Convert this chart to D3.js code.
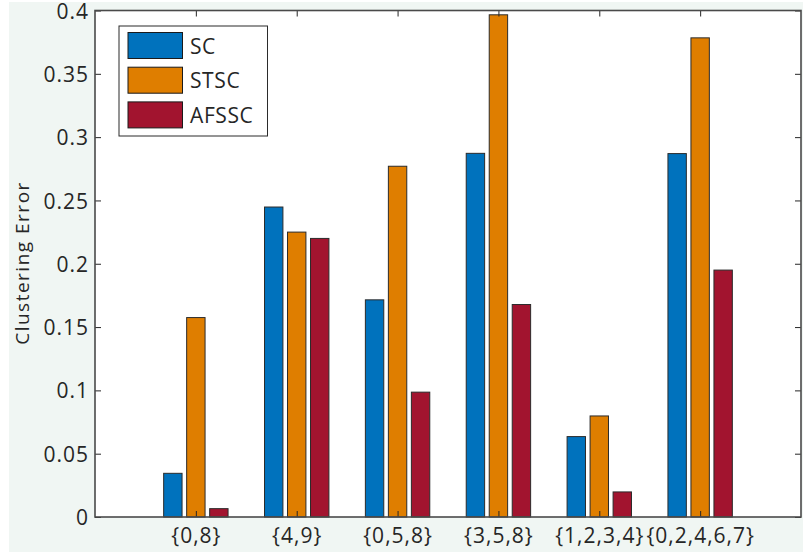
<!DOCTYPE html>
<html>
<head>
<meta charset="utf-8">
<script src="https://cdn.jsdelivr.net/npm/d3@7"></script>
<style>
  body { margin: 0; background: #fff; }
  text { font-family: "Open Sans", sans-serif; fill: #262626; }
</style>
</head>
<body>
<div id="chart"></div>
<script>
// data
const categories = ['{0,8}', '{4,9}', '{0,5,8}', '{3,5,8}', '{1,2,3,4}', '{0,2,4,6,7}'];
const seriesNames = ['SC', 'STSC', 'AFSSC'];
const scValues    = [0.0345, 0.2448, 0.1715, 0.2872, 0.0635, 0.2870];
const stscValues  = [0.1575, 0.2250, 0.2770, 0.3966, 0.0798, 0.3784];
const afsscValues = [0.0066, 0.2200, 0.0986, 0.1678, 0.0198, 0.1950];
const yTicks = [0, 0.05, 0.1, 0.15, 0.2, 0.25, 0.3, 0.35, 0.4];
const colors = ['#0072BD', '#DF7E00', '#A2142F'];

const W = 803, H = 552;
const axLeft = 95, axRight = 801, axTop = 10.5, axBottom = 517;

const svg = d3.select('#chart').append('svg')
  .attr('width', W)
  .attr('height', H);

// figure background
svg.append('rect')
  .attr('x', 9).attr('y', 2)
  .attr('width', W - 9).attr('height', H - 2)
  .attr('fill', '#f0f6f3');

const x = d3.scaleLinear().domain([0, categories.length + 1]).range([axLeft, axRight]);
const y = d3.scaleLinear().domain([0, 0.4]).range([axBottom, axTop]);
const inner = d3.scaleBand().domain(seriesNames).range([-34.5, 34.5])
  .paddingInner(0.2).paddingOuter(0.1);

// axes area
svg.append('rect')
  .attr('x', axLeft).attr('y', axTop)
  .attr('width', axRight - axLeft).attr('height', axBottom - axTop)
  .attr('fill', '#fff');

const series = [scValues, stscValues, afsscValues];
const g = svg.append('g');
series.forEach((vals, si) => {
  g.selectAll(null)
    .data(vals)
    .join('rect')
    .attr('x', (d, i) => x(i + 1) + inner(seriesNames[si]))
    .attr('y', d => y(d))
    .attr('width', inner.bandwidth())
    .attr('height', d => y(0) - y(d))
    .attr('fill', colors[si])
    .attr('stroke', '#2b2b2b')
    .attr('stroke-width', 1);
});

const axisColor = '#4a4a4a';

// left axis
const yAxis = svg.append('g')
  .attr('transform', `translate(${axLeft},0)`)
  .call(d3.axisLeft(y).tickValues(yTicks).tickSize(-6).tickPadding(6)
    .tickFormat(d => d === 0 ? '0' : String(+d.toFixed(2))));
yAxis.select('.domain').remove();
yAxis.selectAll('.tick line').attr('stroke', '#262626').attr('stroke-width', 1);
yAxis.selectAll('.tick text').attr('font-size', 21).attr('fill', '#262626')
  .attr('letter-spacing', 1).attr('dy', '0.36em')
  .attr('font-family', '"Open Sans", sans-serif');

// right axis ticks
const yAxisR = svg.append('g')
  .attr('transform', `translate(${axRight},0)`)
  .call(d3.axisRight(y).tickValues(yTicks).tickSize(-6).tickFormat(''));
yAxisR.select('.domain').remove();
yAxisR.selectAll('.tick line').attr('stroke', '#262626');

// bottom axis
const xAxis = svg.append('g')
  .attr('transform', `translate(0,${axBottom})`)
  .call(d3.axisBottom(x).tickValues(d3.range(1, categories.length + 1))
    .tickSize(-6).tickPadding(11).tickFormat(d => categories[d - 1]));
xAxis.select('.domain').remove();
xAxis.selectAll('.tick line').attr('stroke', '#262626');
xAxis.selectAll('.tick text').attr('font-size', 21).attr('fill', '#262626')
  .attr('letter-spacing', 1)
  .attr('font-family', '"Open Sans", sans-serif');

// top axis ticks
const xAxisT = svg.append('g')
  .attr('transform', `translate(0,${axTop})`)
  .call(d3.axisTop(x).tickValues(d3.range(1, categories.length + 1))
    .tickSize(-6).tickFormat(''));
xAxisT.select('.domain').remove();
xAxisT.selectAll('.tick line').attr('stroke', '#262626');

// box
svg.append('rect')
  .attr('x', axLeft).attr('y', axTop)
  .attr('width', axRight - axLeft).attr('height', axBottom - axTop)
  .attr('fill', 'none')
  .attr('stroke', axisColor)
  .attr('stroke-width', 1.6);

// y label
svg.append('text')
  .attr('transform', 'translate(29,263) rotate(-90)')
  .attr('text-anchor', 'middle')
  .attr('font-size', 19)
  .attr('letter-spacing', 1.5)
  .text('Clustering Error');

// legend
const lg = svg.append('g');
lg.append('rect')
  .attr('x', 119).attr('y', 26)
  .attr('width', 148.5).attr('height', 110)
  .attr('fill', '#fff')
  .attr('stroke', '#2b2b2b')
  .attr('stroke-width', 1);
seriesNames.forEach((name, i) => {
  const yy = 32.5 + i * 34.7;
  lg.append('rect')
    .attr('x', 128).attr('y', yy)
    .attr('width', 54.5).attr('height', 26)
    .attr('fill', colors[i])
    .attr('stroke', '#1a1a1a')
    .attr('stroke-width', 1);
  lg.append('text')
    .attr('x', 190).attr('y', yy + 21)
    .attr('font-size', 21)
    .attr('letter-spacing', 0.6)
    .text(name);
});
</script>
</body>
</html>
